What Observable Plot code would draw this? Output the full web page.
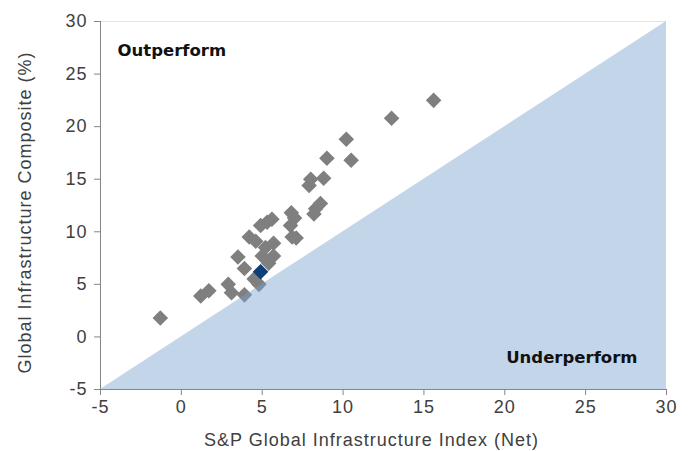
<!DOCTYPE html>
<html>
<head>
<meta charset="utf-8">
<script src="https://cdn.jsdelivr.net/npm/d3@7"></script>
<script src="https://cdn.jsdelivr.net/npm/@observablehq/plot@0.6"></script>
<style>
  html, body { margin: 0; padding: 0; background: #fff; }
  #chart svg { display: block; }
  #chart svg text { letter-spacing: 1px; }
  #chart svg g[font-weight="bold"] text { letter-spacing: 0; }
</style>
</head>
<body>
<div id="chart"></div>
<script>
// S&P Global Infrastructure Index (Net) returns, %
const xValues = [-1.3, 1.2, 1.7, 2.9, 3.1, 3.9, 3.5, 3.9, 4.5, 4.8,
                 4.2, 4.6, 4.9, 5.3, 5.6, 5.2, 5.7, 5.0, 5.7, 5.4,
                 6.8, 7.0, 6.75, 6.85, 7.1, 7.9, 8.0, 8.8, 9.0, 10.5,
                 10.2, 13.0, 15.6, 8.2, 8.3, 8.6];
// Global Infrastructure Composite returns, %
const yValues = [1.8, 3.9, 4.4, 5.0, 4.2, 4.0, 7.6, 6.5, 5.5, 5.0,
                 9.5, 9.1, 10.6, 10.9, 11.2, 8.5, 8.9, 7.7, 7.7, 7.0,
                 11.8, 11.3, 10.6, 9.5, 9.4, 14.4, 15.0, 15.1, 17.0, 16.8,
                 18.8, 20.8, 22.5, 11.7, 12.2, 12.7];
// highlighted point
const highlightX = [4.9];
const highlightY = [6.2];

const axisTicks = [-5, 0, 5, 10, 15, 20, 25, 30];
const diagonal = [-5, 30];
const regionLabels = ["Outperform", "Underperform"];
const xTitle = "S&P Global Infrastructure Index (Net)";
const yTitle = "Global Infrastructure Composite (%)";

const points = xValues.map((x, i) => ({x, y: yValues[i]}));
const highlight = highlightX.map((x, i) => ({x, y: highlightY[i]}));
const diag = diagonal.map(v => ({x: v, y: v}));

const font = "'Liberation Sans', Arial, sans-serif";

const chart = Plot.plot({
  width: 696,
  height: 451,
  marginLeft: 100,
  marginRight: 30,
  marginTop: 21,
  marginBottom: 62,
  style: {fontFamily: font, background: "#fff"},
  x: {domain: [-5, 30], ticks: axisTicks},
  y: {domain: [-5, 30], ticks: axisTicks},
  marks: [
    Plot.ruleY([30], {stroke: "#e4e4e4"}),
    Plot.dot(points, {x: "x", y: "y", symbol: "diamond2", r: 7, fill: "#7f7f7f", stroke: "none"}),
    Plot.dot(highlight, {x: "x", y: "y", symbol: "diamond2", r: 7, fill: "#0e3f75", stroke: "none"}),
    Plot.areaY(diag, {x: "x", y1: diagonal[0], y2: "y", fill: "#7aa2cf", fillOpacity: 0.45}),
    Plot.ruleX([-5], {stroke: "#868686"}),
    Plot.ruleY([-5], {stroke: "#868686"}),
    Plot.axisX({ticks: axisTicks, tickSize: 6, tickPadding: 5, stroke: "#868686",
      fill: "#404040", fontSize: 18, label: null, tickFormat: d => String(d)}),
    Plot.axisY({ticks: axisTicks, tickSize: 6, tickPadding: 7, stroke: "#868686",
      fill: "#404040", fontSize: 18, label: null, tickFormat: d => String(d)}),
    Plot.text([xTitle], {frameAnchor: "bottom", dx: -12, dy: 51, fill: "#404040", fontSize: 18,
      textAnchor: "middle", lineAnchor: "middle", text: d => d}),
    Plot.text([yTitle], {frameAnchor: "left", dx: -75, dy: 7, rotate: -90, fill: "#404040", fontSize: 18,
      textAnchor: "middle", lineAnchor: "middle", text: d => d}),
    Plot.text([regionLabels[0]], {frameAnchor: "top-left", dx: 17, dy: 29, textAnchor: "start",
      lineAnchor: "middle", fontWeight: "bold", fontSize: 16.5, fill: "#111",
      fontFamily: "'DejaVu Sans', Verdana, sans-serif", text: d => d}),
    Plot.text([regionLabels[1]], {frameAnchor: "bottom-right", dx: -29, dy: -32, textAnchor: "end",
      lineAnchor: "middle", fontWeight: "bold", fontSize: 16.5, fill: "#111",
      fontFamily: "'DejaVu Sans', Verdana, sans-serif", text: d => d})
  ]
});
document.getElementById("chart").appendChild(chart);
</script>
</body>
</html>
